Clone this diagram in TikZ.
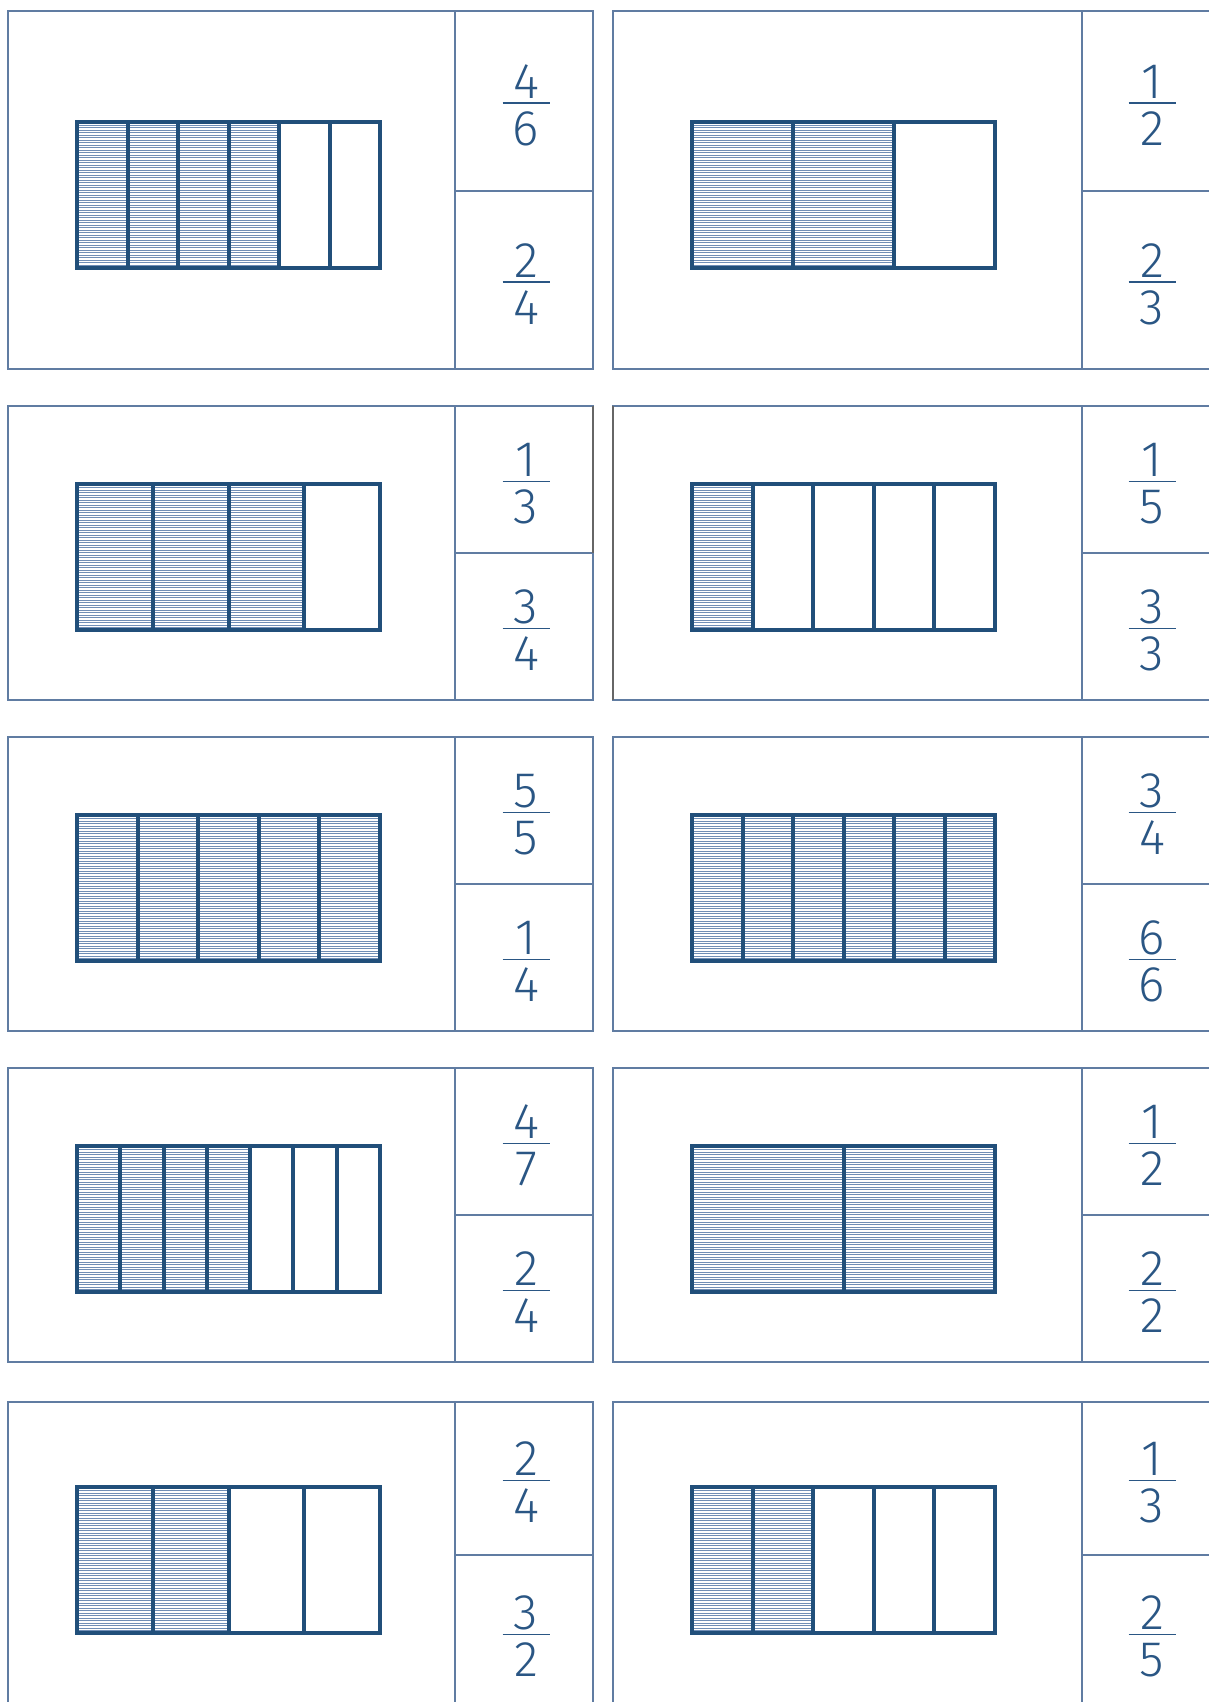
\documentclass[tikz,border=0pt]{standalone}
\usepackage{fontspec}
\usepackage{tikz}
\newfontfamily\digitfont{Fira Sans Light}
\definecolor{cardline}{RGB}{96,124,162}
\definecolor{barblue}{RGB}{33,79,122}
\definecolor{hatchblue}{RGB}{112,142,182}
\definecolor{digitblue}{RGB}{42,86,132}

% one fraction: name, x, y of the bar, numerator, denominator
\newcommand{\fracpair}[5]{%
  \node[digit,anchor=base] (#1n) at (#2,#3-5) {#4};
  \node[digit,anchor=base] (#1d) at (#2,#3+42) {#5};
  \draw[fracbar] (#2-23.5,#3) -- (#2+23.5,#3);
}

% one card, column set by \colL \colS \colR \boxL \fracX
\newcommand{\drawcard}[1]{%
  \draw[card] (\colL,\ct) rectangle (\colR,\cb);
  \draw[card] (\colS,\ct) -- (\colS,\cb) (\colS,\cm) -- (\colR,\cm);
  \pgfmathsetmacro\pw{303/\np}
  \pgfmathtruncatemacro\last{\np-1}
  \begin{scope}
    \clip (\boxL,\bt) rectangle ({\boxL+\ns*\pw},{\bt+146});
    \foreach \h in {1.2,3.7,...,146}
      \draw[hatch] (\boxL,\bt+\h) -- (\boxL+303,\bt+\h);
  \end{scope}
  \foreach \j in {1,...,\last}
    \draw[bar] ({\boxL+\j*\pw},\bt) -- ({\boxL+\j*\pw},{\bt+146});
  \draw[bar] (\boxL,\bt) rectangle ({\boxL+303},{\bt+146});
  \pgfmathsetmacro\ya{(\ct+\cm)/2+2}
  \pgfmathsetmacro\yb{(\cm+\cb)/2+2}
  \fracpair{#1a}{\fracX}{\ya}{\na}{\da}
  \fracpair{#1b}{\fracX}{\yb}{\nb}{\db}
}

\begin{document}
\begin{tikzpicture}[x=1pt,y=-1pt,
    card/.style={draw=cardline,line width=1.5pt},
    bar/.style={draw=barblue,line width=4pt},
    hatch/.style={draw=hatchblue,line width=1.1pt},
    digit/.style={text=digitblue,font=\digitfont\fontsize{50}{50}\selectfont,inner sep=0pt},
    fracbar/.style={draw=digitblue,line width=1.5pt},
    grayedge/.style={draw=black!60,line width=2pt}
  ]
  \fill[white] (0,0) rectangle (1209,1702);
  \useasboundingbox (0,0) rectangle (1209,1702);
  \clip (0,0) rectangle (1209,1702);

  % left column
  \def\colL{8}\def\colS{455}\def\colR{593}\def\boxL{77}\def\fracX{526}
  \foreach \ct/\cm/\cb/\bt/\np/\ns/\na/\da/\nb/\db [count=\i] in {
      11/191/369/121.5/6/4/4/6/2/4,
      406/553/700/484/4/3/1/3/3/4,
      737/884/1031/815/5/5/5/5/1/4,
      1068/1215/1362/1146/7/4/4/7/2/4,
      1402/1555/1710/1487/4/2/2/4/3/2}
    {\drawcard{L\i}}

  % right column
  \def\colL{613}\def\colS{1082}\def\colR{1240}\def\boxL{692}\def\fracX{1152}
  \foreach \ct/\cm/\cb/\bt/\np/\ns/\na/\da/\nb/\db [count=\i] in {
      11/191/369/121.5/3/2/1/2/2/3,
      406/553/700/484/5/1/1/5/3/3,
      737/884/1031/815/6/6/3/4/6/6,
      1068/1215/1362/1146/2/2/1/2/2/2,
      1402/1555/1710/1487/5/2/1/3/2/5}
    {\drawcard{R\i}}

  % darker edges on the second row
  \draw[grayedge] (593,406) -- (593,553);
  \draw[grayedge] (613,406) -- (613,700);
\end{tikzpicture}
\end{document}
